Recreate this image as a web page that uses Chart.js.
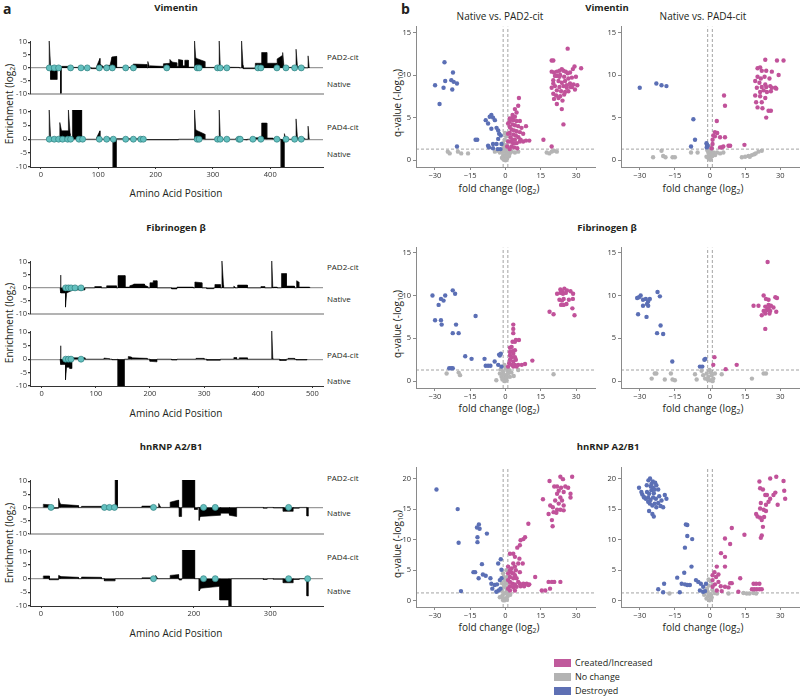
<!DOCTYPE html>
<html>
<head>
<meta charset="utf-8">
<script src="https://cdn.jsdelivr.net/npm/chart.js@4.4.1/dist/chart.umd.min.js"></script>
<style>
  body { margin: 0; background: #fff; }
  #fig { position: relative; width: 800px; height: 696px; overflow: hidden; font-family: 'Open Sans', 'Noto Sans', sans-serif; color: #231f20; }
  #fig canvas { position: absolute; }
  .t { position: absolute; white-space: nowrap; transform: translate(-50%, -50%); line-height: 1; }
  .l { position: absolute; white-space: nowrap; transform: translateY(-50%); line-height: 1; font-size: 8px; }
  .v { position: absolute; white-space: nowrap; transform: translate(-50%, -50%) rotate(-90deg); line-height: 1; font-size: 10px; }
  .letter { position: absolute; font-weight: bold; font-size: 14px; line-height: 1; }
  .title { font-weight: bold; font-size: 9.5px; }
  .sub { font-size: 10px; }
  .axis { font-size: 10px; }
  sub { font-size: 70%; vertical-align: -0.25em; line-height: 0; }
  .key { position: absolute; left: 554px; font-size: 9px; line-height: 8px; white-space: nowrap; }
  .key i { display: inline-block; width: 17px; height: 8px; margin-right: 4px; vertical-align: top; }
</style>
</head>
<body>
<div id="fig">
  <div class="letter" style="left:3px;top:2px">a</div>
  <div class="letter" style="left:401px;top:2px">b</div>

  <div class="t title" style="left:176px;top:8px">Vimentin</div>
  <div class="t title" style="left:607px;top:8px">Vimentin</div>
  <div class="t sub" style="left:500px;top:16px">Native vs. PAD2-cit</div>
  <div class="t sub" style="left:703px;top:16px">Native vs. PAD4-cit</div>
  <div class="t title" style="left:176px;top:228px">Fibrinogen β</div>
  <div class="t title" style="left:607px;top:228px">Fibrinogen β</div>
  <div class="t title" style="left:171px;top:447px">hnRNP A2/B1</div>
  <div class="t title" style="left:608px;top:447px">hnRNP A2/B1</div>

  <div class="l" style="left:327px;top:57px">PAD2-cit</div>
  <div class="l" style="left:327px;top:84px">Native</div>
  <div class="l" style="left:327px;top:127px">PAD4-cit</div>
  <div class="l" style="left:327px;top:154px">Native</div>
  <div class="l" style="left:327px;top:267px">PAD2-cit</div>
  <div class="l" style="left:327px;top:299px">Native</div>
  <div class="l" style="left:327px;top:355px">PAD4-cit</div>
  <div class="l" style="left:327px;top:381px">Native</div>
  <div class="l" style="left:327px;top:478px">PAD2-cit</div>
  <div class="l" style="left:327px;top:513px">Native</div>
  <div class="l" style="left:327px;top:557px">PAD4-cit</div>
  <div class="l" style="left:327px;top:591px">Native</div>

  <div class="t axis" style="left:176px;top:193px">Amino Acid Position</div>
  <div class="t axis" style="left:176px;top:413px">Amino Acid Position</div>
  <div class="t axis" style="left:176px;top:633px">Amino Acid Position</div>
  <div class="v" style="left:9px;top:104px">Enrichment (log<sub>2</sub>)</div>
  <div class="v" style="left:9px;top:323px">Enrichment (log<sub>2</sub>)</div>
  <div class="v" style="left:9px;top:543px">Enrichment (log<sub>2</sub>)</div>

  <div class="v" style="left:397px;top:103px">q-value (-log<sub>10</sub>)</div>
  <div class="v" style="left:397px;top:324px">q-value (-log<sub>10</sub>)</div>
  <div class="v" style="left:397px;top:544px">q-value (-log<sub>10</sub>)</div>
  <div class="t axis" style="left:499px;top:188px">fold change (log<sub>2</sub>)</div>
  <div class="t axis" style="left:703px;top:188px">fold change (log<sub>2</sub>)</div>
  <div class="t axis" style="left:499px;top:408px">fold change (log<sub>2</sub>)</div>
  <div class="t axis" style="left:703px;top:408px">fold change (log<sub>2</sub>)</div>
  <div class="t axis" style="left:499px;top:627px">fold change (log<sub>2</sub>)</div>
  <div class="t axis" style="left:703px;top:627px">fold change (log<sub>2</sub>)</div>

  <div class="key" style="top:659px"><i style="background:#c05a9c"></i>Created/Increased</div>
  <div class="key" style="top:673px"><i style="background:#b3b3b3"></i>No change</div>
  <div class="key" style="top:687px"><i style="background:#5e70b4"></i>Destroyed</div>
</div>

<script>
'use strict';

// --- Tick labels ---
const enrichTicks = [-10, -5, 0, 5, 10];
const vimPosTicks = [0, 100, 200, 300, 400];
const fibPosTicks = [0, 100, 200, 300, 400, 500];
const hnPosTicks = [0, 100, 200, 300];
const fcTicks = [-30, -15, 0, 15, 30];
const qTicks15 = [0, 5, 10, 15];
const qTicks20 = [0, 5, 10, 15, 20];
const qCutoff = 1.3;
const fcCutoff = 1;

// --- Enrichment profiles: [start, end, value at start, value at end] ---
const vimPad2Segments = [
  [14.5, 17, 10.5, 0.3], [17, 28.5, -4.5, -4.5], [34.3, 35.5, -10, -10], [36, 54, 0.6, 0.6], [54, 70, 0.2, 0.2],
  [88, 97, -0.3, -0.3], [97, 103, 0.5, 3.7], [103, 109, 1.5, 0.5], [112, 121, 1.0, 1.0], [121, 124, 1.5, 4.2],
  [124, 132, 4.3, 4.5], [132, 160, 0.2, 0.2], [161, 185, 1.5, 1.3], [186.5, 189, 2.5, 0.6], [190, 213, 0.8, 0.6],
  [214, 225, 1.6, 1.8], [225, 228, 3.3, 2.5], [228, 237, 2.3, 2.0], [237, 240, 0.5, 0.5], [240, 247, 3.3, 3.0],
  [247, 251, 0.8, 0.8], [251, 257, 3.0, 3.0], [257, 268, 0.3, 0.3], [268, 270, 10.5, 4.0], [270, 286, 3.8, 2.5],
  [286, 310, 0.2, 0.2], [311, 313, 10.5, 0.3], [313, 346, 0.3, 0.2], [350, 352.5, 10.5, 1.0], [353, 374, -0.3, -0.3],
  [374, 385, 1.8, 1.8], [385, 394, 6.0, 6.0], [394, 411, 1.8, 1.8], [412, 421, 3.5, 4.8], [422, 424, 6.0, 0.5],
  [424, 444, 0.2, 0.2], [445, 447.5, 7.3, 0.5], [447.5, 460, 0.5, 0.3], [466, 468, 4.7, 0.2]
];
const vimPad4Segments = [
  [14.5, 17, 10.5, 0.3], [33, 36, 6.0, 3.0], [36, 48, 3.0, 3.0], [48, 51, 10.5, 2.0], [51, 55, 0.4, 0.4],
  [55, 71, 10.5, 10.5], [71, 74, 0.3, 0.3], [97, 103, 0.5, 3.0], [103, 106, 1.0, 0.3], [112, 121, 0.4, 0.4],
  [126, 131.5, -10, -10], [132, 170, 0.2, 0.2], [175, 240, -0.2, -0.2], [268, 270, 10.5, 3.5], [270, 286, 3.3, 1.8],
  [311, 313, 10.5, 0.3], [340, 360, 0.3, -0.3], [372, 380, 0.5, 0.5], [385, 394, 5.8, 5.8], [394, 405, 0.4, 0.4],
  [419, 424, -10, -10], [425, 427, 2.0, 0.3], [445, 447.5, 7.3, 0.5], [447.5, 460, 0.4, 0.3], [466, 468, 4.7, 0.2]
];
const fibPad2Segments = [
  [34, 35.5, 5, 0.2], [35.5, 44, -2, -2], [44, 46, -7.5, -2.5], [46, 56, -2, -1], [56, 80, -0.8, -0.8],
  [98, 110, 0.5, 0.5], [120, 138, 0.8, 0.8], [141, 154, 4.8, 4.8], [154, 162, 0.3, 0.3], [163, 170, 0.8, 1.3],
  [170, 190, 1.5, 1.5], [190, 196, 1.0, 0.5], [200, 206, 2.0, 2.0], [206, 213, 2.8, 2.8], [240, 250, -0.4, -0.4],
  [250, 280, 0.3, 0.3], [283, 296, 2.3, 2.0], [305, 318, -0.3, -0.3], [320, 330, 1.3, 1.3], [333, 336, 10.5, 1.0],
  [355, 357, 0.7, 0.3], [362, 380, 1.1, 1.1], [405, 412, 0.5, 0.5], [425, 427, 10.5, 0.3], [428, 435, 0.3, 0.3],
  [443, 452, 5.6, 5.6], [452, 467, 0.7, 0.7], [471, 475, 2.8, 2.3], [475, 495, 0.3, 0.3]
];
const fibPad4Segments = [
  [34, 35.5, 5, 0.2], [35.5, 44, -2, -2], [44, 46, -7.7, -3], [46, 52, -3, -3], [52, 56, -3.5, -3.5],
  [56, 80, 0.5, 0.5], [115, 125, 0.4, 0.2], [130, 140, -0.2, -0.2], [141, 153, -10, -10], [160, 166, 1.0, 0.8],
  [166, 195, 0.5, 0.3], [200, 213, -0.8, -1.0], [240, 250, -0.3, -0.3], [285, 300, 0.3, 0.3], [305, 330, -0.4, -0.4],
  [355, 360, 0.6, 0.6], [365, 380, 0.5, 0.5], [425, 427, 10.5, 0.3], [440, 452, -0.5, -0.5], [455, 467, 0.3, 0.3],
  [470, 490, -0.3, -0.3]
];
const hnPad2Segments = [
  [3, 11, 1.2, 1.0], [11, 23, -0.4, -0.3], [23, 25, 3.5, 1.5], [25, 49, 1.2, 0.7], [53, 79, 0.4, 0.4],
  [79, 96, 0.3, 0.3], [97, 100, 10.5, 10.5], [132, 145, 0.5, 0.5], [154, 156, 1.5, 0.3], [169, 180, 2.0, 2.8],
  [181, 184, -3.5, -3.5], [185, 201, 10.5, 10.5], [201, 205, -0.8, -0.8], [207, 208.5, -5, -3], [208.5, 235, -3.5, -3.0],
  [235, 246, -2.2, -2.2], [247, 256, -3.0, -3.5], [291, 296, -0.3, -0.3], [304, 317, -0.2, -0.2], [317, 330, -1.5, -1.5],
  [330, 338, -0.3, -0.3], [348, 350, -3.3, -3.3]
];
const hnPad4Segments = [
  [3, 11, 1.0, 1.0], [11, 23, -0.4, -0.4], [23, 25, 1.2, 1.0], [25, 49, 0.8, 0.5], [53, 79, 0.6, 0.5],
  [83, 97, -0.8, -0.8], [132, 145, 0.3, 0.3], [150, 152, 1.2, 0.3], [169, 180, 1.2, 1.5], [181, 184, -0.5, -0.5],
  [185, 201, 10.5, 10.5], [207, 209, -4.5, -3.5], [209, 234, -3.5, -2.8], [234, 246, -7.8, -7.8], [246, 249, -10, -10],
  [291, 296, -0.3, -0.3], [304, 317, -0.2, -0.2], [317, 330, -1.5, -1.5], [330, 338, -0.3, -0.3], [348, 350, -6.3, -6.3]
];

// --- Citrullination sites (residue positions) ---
const vimPad2Sites = [14.6, 23.3, 30.9, 51.8, 69.9, 80.9, 101.9, 114.7, 124.6, 147.9, 161.3, 219.5, 272.5, 276, 308, 312.7, 324.3, 378.5, 383.7, 411.6, 427.4, 442.5, 454.1];
const vimPad4Sites = [14.6, 23.3, 30.9, 37.8, 46.6, 51.8, 66.4, 72.8, 101.9, 114.7, 126.3, 147.9, 161.3, 174.1, 178.7, 272.5, 276, 308, 312.7, 324.3, 345.3, 347.6, 369.7, 383.7, 411.6, 427.4, 442.5, 454.1];
const fibPad2Sites = [44.3, 49.3, 54.2, 61.6, 72.7];
const fibPad4Sites = [44.3, 49.3, 54.2, 72.7];
const hnPad2Sites = [13.1, 83, 89.5, 96.1, 147.2, 212.7, 228, 324];
const hnPad4Sites = [147.2, 212.7, 228, 324, 348.9];

// --- Volcano points: [fold change (log2), q-value (-log10)] ---
const vimPad2Created = [
  [19.6, 11.7], [20.3, 11.7], [26.4, 13.1], [29.3, 11.0], [32.1, 10.8], [19.6, 10.4], [20.6, 10.3], [21.8, 10.4], [22.9, 10.5],
  [23.9, 10.7], [24.6, 10.5], [25.6, 10.4], [26.4, 10.2], [27.4, 10.3], [28.6, 10.7], [21.8, 9.9], [23.2, 10.0], [24.9, 9.8],
  [26.7, 9.6], [28.2, 9.7], [29.9, 9.8], [20.3, 9.4], [22.5, 9.3], [23.9, 9.1], [25.3, 9.3], [27.4, 9.0], [28.9, 8.9],
  [21.0, 8.7], [22.9, 8.6], [24.6, 8.7], [26.0, 8.5], [27.7, 8.6], [19.6, 8.5], [21.8, 8.2], [23.6, 8.1], [25.3, 8.0],
  [26.7, 8.1], [28.2, 8.6], [20.3, 7.8], [21.5, 7.6], [23.2, 7.5], [24.9, 7.7], [20.6, 7.2], [22.5, 7.3], [24.2, 7.0],
  [21.8, 6.6], [23.9, 6.0], [24.6, 4.2], [26.0, 8.8], [20.3, 9.0], [22.9, 9.8], [21.0, 9.9], [30.5, 8.8], [29.5, 8.3],
  [5.7, 7.3], [5.4, 6.4], [4.0, 6.0], [4.7, 5.6], [3.0, 5.3], [4.0, 5.1], [2.6, 4.9], [3.3, 4.7], [4.7, 4.6], [6.1, 4.6],
  [1.8, 4.5], [3.0, 4.2], [4.0, 4.1], [5.4, 4.0], [6.8, 3.8], [8.7, 4.0], [1.8, 3.9], [2.6, 3.6], [3.6, 3.5], [4.7, 3.4],
  [6.1, 3.3], [1.8, 3.2], [3.3, 3.0], [4.4, 2.9], [5.5, 2.7], [2.1, 2.7], [3.0, 2.4], [4.0, 2.4], [6.4, 2.4], [2.1, 2.2],
  [3.3, 2.0], [4.7, 2.0], [6.1, 2.2], [7.5, 2.2], [8.7, 2.3], [10.1, 2.3], [2.6, 1.6], [3.7, 1.5], [1.8, 1.3], [5.0, 1.4],
  [1.8, 4.9], [1.1, 4.3], [1.1, 3.1], [1.1, 2.2], [0.7, 1.6], [16.1, 2.4], [19.6, 1.6], [7.5, 3.1]
];
const vimPad2Same = [
  [-1, 2.0], [-0.3, 2.4], [-0.7, 1.6], [0.1, 1.2], [-1.7, 1.0], [0.4, 0.8], [-1, 0.6], [-0.1, 0.4], [0.7, 0.2], [-0.7, 0.1],
  [0, 0], [1.1, 1.0], [1.8, 0.8], [-2.4, 0.9], [-3.1, 1.1], [-4.5, 1.0], [2.6, 1.0], [4, 0.9], [5.4, 1.0], [0.5, 1.8],
  [-0.5, 1.3], [1.5, 0.5], [-1.5, 0.3], [0.3, 2.8], [-0.2, 3.2], [1.2, 1.5], [-1.2, 0.2], [0.8, 0.6], [-0.8, 1.0], [0.2, 0.1],
  [-24.5, 1.0], [-23.7, 0.8], [-20.2, 1.0], [-18.8, 0.8], [-15.9, 0.8], [17.5, 0.9], [18.6, 0.8], [19.6, 1.0], [20.6, 1.1], [21.8, 1.0]
];
const vimPad2Destroyed = [
  [-29.9, 8.8], [-28, 6.6], [-26.3, 8.5], [-25.9, 11.5], [-25.6, 9.3], [-23, 9.4], [-22.6, 8.3], [-22.3, 10.3], [-22, 9.2],
  [-20.6, 9.0], [-20.6, 1.6], [-12.7, 2.4], [-12, 2.4], [-8.4, 4.7], [-7.4, 4.3], [-7.4, 1.7], [-7, 1.5], [-6.7, 5.1],
  [-6, 5.3], [-6, 3.7], [-5.3, 5.0], [-5.3, 1.9], [-5.3, 1.4], [-4.5, 4.7], [-3.8, 3.8], [-3.8, 1.9], [-3.1, 3.5],
  [-3.1, 2.5], [-2.7, 3.1], [-2, 2.9], [-1.7, 1.9], [-2.1, 1.3], [-3.3, 1.3]
];
const vimPad4Created = [
  [23.6, 11.8], [28.6, 11.7], [31.4, 11.7], [20.3, 10.8], [21.4, 10.9], [22.1, 10.5], [24, 10.5], [26.4, 10.4], [29.3, 10.0],
  [20.3, 9.8], [21.7, 9.6], [23.3, 9.8], [25.4, 9.6], [19.3, 9.3], [21.1, 9.1], [23.6, 8.9], [25.7, 8.7], [22.1, 8.6],
  [24, 8.6], [20, 8.5], [26.4, 8.5], [27.9, 8.5], [22.9, 8.2], [21.4, 8.0], [24.3, 8.0], [26, 8.1], [19.3, 7.6], [21.4, 7.5],
  [23.6, 7.3], [19.7, 6.8], [22.1, 6.8], [20.3, 6.2], [22.4, 6.1], [25, 5.8], [26, 5.8], [24, 5.0], [28.3, 8.4],
  [6, 7.6], [6.4, 6.4], [2.9, 4.6], [2.1, 3.3], [3.1, 3.2], [1.4, 2.9], [2.1, 2.8], [4.3, 2.7], [6.4, 2.7], [1.1, 2.4],
  [0.7, 1.4], [4.3, 1.5], [5, 1.5], [5.7, 1.6], [7.9, 1.7], [8.6, 1.7], [14.7, 1.8], [1.1, 1.9]
];
const vimPad4Same = [
  [-24.3, 0.35], [-20.7, 1.1], [-20, 0.5], [-19, 0.35], [-16, 0.35], [-15, 0.35], [-8.1, 0.9], [-5.3, 0.9], [-1.2, 1.2],
  [-0.8, 1.0], [-0.5, 0.8], [0.2, 1.1], [0.6, 0.7], [-0.3, 0.5], [0.3, 0.3], [-0.6, 0.2], [0.1, 0.05], [1.0, 0.5], [1.5, 0.9],
  [-1.5, 0.4], [0.8, 1.4], [-0.2, 1.6], [2.2, 0.6], [3, 0.9], [4.3, 0.8], [5.7, 0.9], [13.6, 0.35], [15, 0.4], [16.4, 0.5],
  [17.9, 0.6], [18.9, 0.7], [20.7, 1.0], [22.1, 1.1], [17, 0.4], [19.5, 0.8]
];
const vimPad4Destroyed = [
  [-30, 8.5], [-22.9, 9.0], [-20.7, 8.8], [-18.6, 8.7], [-7.1, 4.8], [-6.4, 2.4], [-8.1, 1.6], [-1.5, 2.0], [-1.3, 1.8],
  [-1.2, 1.6], [-1.4, 1.5], [-1.0, 1.7]
];
const fibPad2Created = [
  [18.7, 8.1], [20.4, 7.8], [21.9, 10.2], [23.3, 10.7], [24, 10.5], [25, 10.8], [26.1, 10.6], [27.6, 10.5], [28.7, 10.2],
  [24.4, 10.2], [22.9, 9.5], [24.7, 9.6], [26.9, 9.5], [28.6, 9.6], [23.6, 8.9], [24.7, 8.9], [25.9, 9.0], [24, 9.4],
  [28.4, 8.5], [29.3, 7.7], [23.3, 10.3], [25.6, 10.3],
  [3.3, 6.6], [3.3, 6.1], [3.3, 5.6], [3, 4.6], [4, 4.6], [4.4, 4.8], [5.7, 4.8], [1.9, 3.9], [2.6, 4.0], [1.9, 3.4],
  [3, 3.5], [4, 3.6], [1.9, 3.0], [3.3, 3.2], [2.6, 2.8], [4, 2.8], [1.9, 2.5], [3.3, 2.3], [4.4, 2.5], [1.6, 2.1],
  [2.7, 1.9], [4, 1.9], [5.4, 1.9], [6.9, 1.9], [8.3, 2.0], [3.3, 1.7], [4.7, 1.7], [11.4, 2.4], [1.1, 1.7]
];
const fibPad2Same = [
  [-3.9, 0.1], [-2.4, 0.9], [-1.7, 0.5], [-1, 1.1], [0.1, 1.5], [0.1, 0.7], [0.4, 0.1], [-0.7, 0.3], [1.1, 0.9], [1.9, 0.5],
  [-0.3, 0], [5.4, 1.3], [-25, 0.9], [-19.9, 1.0], [-19.3, 0.7], [20.4, 0.8], [-1.3, 0.2], [0.8, 1.2], [-0.5, 1.9],
  [1.5, 1.3], [2.5, 1.0], [-2, 1.4], [0.5, 0.4], [3.5, 0.6], [-1, 0.8]
];
const fibPad2Destroyed = [
  [-31, 10.0], [-29.9, 7.1], [-28.4, 8.9], [-27.4, 9.6], [-26.3, 9.4], [-25.6, 10.0], [-27.4, 7.1], [-27.1, 6.6],
  [-22.4, 10.6], [-21.4, 10.2], [-22.4, 5.6], [-21, 6.6], [-19.9, 5.6], [-12.7, 7.6], [-17.1, 2.9], [-14.4, 2.6],
  [-23.9, 1.5], [-23.1, 1.5], [-22.4, 1.5], [-8.9, 2.6], [-8.4, 1.8], [-7.4, 1.8], [-6.4, 1.8], [-4.6, 2.3], [-3.1, 1.9],
  [-2.7, 3.1], [-2, 3.2], [-1.7, 1.7], [-2.4, 3.0]
];
const fibPad4Created = [
  [18.6, 8.8], [20.7, 8.8], [22.1, 7.7], [22.9, 10.0], [23.9, 9.6], [25, 9.5], [23.6, 8.7], [25, 8.9], [26, 8.8], [24.3, 8.3],
  [25, 8.5], [25.7, 8.2], [27.1, 8.6], [27.9, 9.8], [28.6, 9.7], [22.9, 8.2], [23.6, 7.9], [25.4, 7.9], [28.3, 8.1],
  [23.6, 6.1], [24.6, 13.9], [1.9, 2.8], [1.4, 1.9], [6.7, 1.4], [11.4, 1.9]
];
const fibPad4Same = [
  [-23.6, 0.9], [-22.9, 0.9], [-24.9, 0.3], [-19.3, 0.2], [-16.7, 0.9], [-16, 0.2], [-15, 0.1], [-6.4, 0.8], [-5.7, 0.2],
  [-3.6, 1.2], [-2.9, 0.7], [-2.1, 0.3], [-1.4, 0.9], [-0.7, 0.5], [0, 0.1], [0.7, 0.7], [1.4, 0.3], [2.1, 0.9], [5, 0.8],
  [17.9, 0.3], [22.9, 0.9], [23.9, 0.9], [-0.3, 1.3], [1.1, 0], [-1.0, 0.2], [0.4, 1.0]
];
const fibPad4Destroyed = [
  [-31.1, 9.7], [-30.3, 9.8], [-29.6, 10.0], [-28.6, 9.5], [-27.4, 9.6], [-26.4, 9.3], [-25.7, 9.6], [-26.9, 9.0],
  [-26.4, 8.8], [-28.6, 8.8], [-30.7, 7.8], [-27.1, 7.5], [-22.4, 10.4], [-21.4, 9.9], [-21.1, 6.5], [-22.6, 5.6],
  [-20, 5.5], [-16.1, 2.3], [-4.3, 1.7], [-3.3, 1.7], [-2.4, 2.5], [-2, 2.6]
];
const hnPad2Created = [
  [18.7, 19.6], [23.3, 20.3], [24.4, 19.9], [28.3, 20.3], [21.9, 18.7], [20.7, 18.7], [23.6, 18.5], [25.4, 18.7], [26.6, 18.5],
  [22.6, 18.0], [24.7, 17.8], [27.6, 17.5], [27.6, 16.9], [21.9, 17.5], [23.3, 16.9], [21.1, 16.4], [24, 16.4], [15.9, 16.6],
  [22.6, 15.9], [24.7, 15.6], [19, 15.6], [20.1, 15.3], [21.9, 14.9], [23.3, 14.9], [24.7, 14.8], [18.3, 14.2], [20.4, 14.5],
  [19.7, 13.2], [20, 12.2], [21.6, 14.4],
  [9.7, 12.6], [8.3, 10.4], [7.6, 10.1], [6.4, 9.9], [6.1, 9.1], [5, 8.7], [1.9, 7.7], [3.3, 7.7], [4, 7.2], [5.9, 6.9],
  [3.3, 6.1], [5.4, 6.1], [7.3, 6.1], [4, 5.6], [2.6, 5.3], [1.9, 5.0], [2.6, 4.6], [3.3, 4.5], [4, 4.2], [1.9, 3.9],
  [3.3, 3.7], [4.7, 3.7], [5.4, 3.1], [1.9, 3.1], [3, 2.8], [4, 2.7], [6.1, 2.8], [7.6, 2.8], [9, 2.8], [10.1, 2.7],
  [12.6, 3.9], [1.9, 2.4], [3.3, 2.2], [4.7, 2.3], [6.4, 2.4], [7.9, 2.4], [9.7, 2.6], [1.9, 1.7], [4, 1.7], [1.1, 5.6],
  [1.1, 4.5], [1.1, 3.4], [1.1, 2.0], [4.4, 5.0], [6.1, 4.7], [15.4, 1.7], [16.9, 1.7], [18.9, 2.0], [18.3, 3.1],
  [19.7, 3.1], [20.7, 3.1], [23.3, 3.1]
];
const hnPad2Same = [
  [-1, 4.5], [-0.3, 3.4], [-0.7, 2.3], [0.4, 1.5], [-1.3, 0.9], [0.1, 0.4], [-1, 0.1], [-0.3, 0.1], [-1.7, 1.7], [0.7, 3.9],
  [0.1, 2.8], [0.4, 5.0], [-0.5, 1.2], [0.9, 0.7], [-1.5, 2.9], [0.3, 2.1], [-0.8, 3.9], [1.2, 1.1], [-1.2, 0.5], [0.6, 0.2],
  [2, 1.0], [-2.4, 0.6], [0.8, 3.0]
];
const hnPad2Destroyed = [
  [-29.3, 18.2], [-20.3, 15.0], [-19.9, 9.5], [-18.9, 1.6], [-11.3, 12.5], [-12.1, 12.0], [-11, 11.8], [-11.9, 10.4],
  [-11.9, 9.6], [-7.9, 11.0], [-13.6, 4.7], [-12.9, 4.7], [-10, 6.0], [-9.6, 4.3], [-8.4, 4.1], [-11.4, 3.7], [-6.4, 3.7],
  [-6, 2.8], [-4.6, 2.6], [-3.6, 2.7], [-2.4, 3.4], [-1.7, 3.7], [-3.1, 6.1], [-2, 6.8], [-1.7, 5.1], [-5.6, 2.0],
  [-2.9, 1.7], [-2.1, 2.0], [-3.9, 1.5]
];
const hnPad4Created = [
  [21.1, 19.5], [21.4, 18.4], [22.6, 18.2], [24.3, 17.3], [25.7, 20.0], [28.3, 20.3], [31.4, 19.6], [23.6, 17.3], [25.7, 16.7],
  [27.1, 17.3], [27.9, 17.7], [31.7, 18.0], [32.1, 16.7], [21.7, 16.0], [23.9, 15.7], [25, 16.2], [28.9, 15.7], [21.4, 15.1],
  [22.9, 14.9], [23.9, 14.7], [19.7, 14.2], [20.3, 13.8], [21.4, 13.6], [22.1, 13.2], [23.1, 13.7], [22.6, 12.1], [22.1, 10.7],
  [21.7, 10.3],
  [9.3, 11.9], [14.7, 10.8], [6.4, 10.2], [8.6, 9.3], [4.7, 7.8], [6.4, 7.2], [2.9, 5.6], [6.4, 5.6], [1.9, 4.7], [3.6, 4.3],
  [2.6, 3.9], [12.9, 3.7], [3.6, 3.1], [8.6, 2.9], [9.3, 2.9], [2.1, 2.7], [4.6, 2.4], [6.4, 2.3], [7.9, 2.2], [18.6, 2.8],
  [19.7, 2.8], [21.1, 2.8], [17.9, 1.9], [18.9, 1.9], [20, 1.9], [21.1, 1.9], [22.1, 1.9], [2.9, 1.7], [5, 1.6], [12.1, 1.5],
  [1.1, 3.4], [1.1, 4.2], [1.1, 2.3]
];
const hnPad4Same = [
  [-17.3, 1.2], [14.3, 1.3], [15.7, 1.2], [16.9, 1.2], [18.6, 1.3], [19.7, 1.2], [7.9, 1.2], [-1, 1.5], [-0.5, 2.5], [0.3, 3.2],
  [-0.8, 0.8], [0.5, 0.3], [-0.2, 0.1], [1.0, 1.8], [-1.3, 2.0], [0.2, 1.1], [-0.6, 3.5], [1.2, 2.6], [0.7, 0.6], [-1.5, 0.4],
  [2, 1.3], [3, 1.2], [-2.5, 1.0]
];
const hnPad4Destroyed = [
  [-30.3, 18.5], [-26.3, 19.7], [-25.6, 20.0], [-24.4, 19.5], [-23.4, 19.3], [-27, 18.9], [-25.3, 18.7], [-24.3, 18.5],
  [-22.9, 18.9], [-28.9, 17.4], [-28.3, 17.0], [-26.9, 17.8], [-26, 17.5], [-25, 18.1], [-24, 17.6], [-22.1, 18.2],
  [-27.4, 16.7], [-26.4, 16.9], [-25.4, 16.5], [-24.3, 16.9], [-23.1, 16.7], [-21.7, 17.1], [-19.3, 17.3], [-18.6, 16.7],
  [-20.7, 16.4], [-25.7, 15.9], [-24.6, 15.6], [-23.6, 15.9], [-22.1, 16.0], [-21.1, 15.5], [-20, 15.3], [-22.9, 15.3],
  [-26, 14.7], [-24.6, 14.2], [-24, 13.8], [-28.1, 16.9], [-29.3, 17.8], [-25, 19.1], [-23.6, 18.2], [-26.4, 16.2],
  [-10.3, 12.5], [-9.7, 12.4], [-9.7, 10.6], [-10.7, 8.7], [-7.6, 10.1], [-7.9, 5.6], [-11, 4.6], [-14, 3.8], [-12.1, 2.8],
  [-10.7, 2.7], [-9.7, 2.6], [-8.6, 2.6], [-6, 3.4], [-5, 3.1], [-3.9, 2.8], [-2.9, 2.3], [-1.7, 2.8], [-2.1, 1.6],
  [-4.3, 1.7], [-19.6, 2.8], [-22.1, 1.9], [-20, 1.4], [-12.9, 1.4], [-2.9, 1.5]
];

// --- Colours ---
const COLOR_CREATED = '#c1529a';
const COLOR_SAME = '#b5b5b5';
const COLOR_DESTROYED = '#5b6fb5';

Chart.defaults.font.family = "'Open Sans', 'Noto Sans', sans-serif";
const fig = document.getElementById('fig');
const PAD = 6;

// canvas placed so its chart area lands on the given box
function addCanvas(area, yW, xH) {
  const c = document.createElement('canvas');
  c.width = area.r - area.l + yW + PAD;
  c.height = area.b - area.t + PAD + xH;
  c.style.left = (area.l - yW) + 'px';
  c.style.top = (area.t - PAD) + 'px';
  fig.appendChild(c);
  return c;
}

const fixTicks = values => scale => { scale.ticks = values.map(v => ({ value: v })); };

function toArea(segments) {
  const pts = [];
  segments.forEach(([a, b, v1, v2]) => {
    pts.push({ x: a, y: 0 }, { x: a, y: v1 }, { x: b, y: v2 }, { x: b, y: 0 });
  });
  return pts;
}

const baseOptions = {
  responsive: false, animation: false, events: [],
  layout: { padding: { top: PAD, right: PAD } },
  plugins: { legend: { display: false }, tooltip: { enabled: false } }
};

function drawProfile(area, xRange, xTicks, segments, sites, isLower) {
  const yW = 22, xH = isLower ? 14 : 2;
  new Chart(addCanvas(area, yW, xH), {
    type: 'scatter',
    data: {
      datasets: [
        { data: sites.map(p => ({ x: p, y: 0 })), pointRadius: 3, pointBackgroundColor: '#63c0bf', pointBorderColor: '#2e7f80', pointBorderWidth: 0.7 },
        { type: 'line', data: toArea(segments), fill: 'origin', backgroundColor: '#000', borderColor: '#000', borderWidth: 0.6, pointRadius: 0, tension: 0 }
      ]
    },
    options: {
      ...baseOptions,
      scales: {
        x: {
          type: 'linear', min: xRange[0], max: xRange[1],
          afterBuildTicks: fixTicks(xTicks), afterFit: s => { s.height = xH; },
          border: isLower ? { color: '#333', width: 1 } : { color: '#b3b3b3', width: 2 },
          grid: { display: isLower, drawOnChartArea: false, tickLength: 2, tickColor: '#333' },
          ticks: { display: isLower, color: '#333', font: { size: 7.5 }, padding: 1, maxRotation: 0 }
        },
        y: {
          min: -10, max: 10.5,
          afterBuildTicks: fixTicks(enrichTicks), afterFit: s => { s.width = yW; },
          border: { color: '#333', width: 1 },
          grid: { color: c => (c.tick && c.tick.value === 0 ? '#9a9a9a' : 'rgba(0,0,0,0)'), lineWidth: 1.2, tickColor: '#333', tickLength: 2 },
          ticks: { color: '#333', font: { size: 7.5 }, padding: 1 }
        }
      }
    }
  });
}

const dots = (pts, color) => ({ data: pts.map(([x, y]) => ({ x, y })), pointRadius: 2.2, pointBorderWidth: 0, pointBackgroundColor: color });
const guide = pts => ({ data: pts, showLine: true, borderColor: '#8c8c8c', borderWidth: 0.8, borderDash: [3, 2], pointRadius: 0 });
const fcRange = [-38, 38];

function drawVolcano(area, yRange, yTicks, created, same, destroyed) {
  const yW = 20, xH = 14;
  new Chart(addCanvas(area, yW, xH), {
    type: 'scatter',
    data: {
      datasets: [
        dots(created, COLOR_CREATED), dots(destroyed, COLOR_DESTROYED), dots(same, COLOR_SAME),
        guide([{ x: fcRange[0], y: qCutoff }, { x: fcRange[1], y: qCutoff }]),
        guide([{ x: -fcCutoff, y: yRange[0] }, { x: -fcCutoff, y: yRange[1] }]),
        guide([{ x: fcCutoff, y: yRange[0] }, { x: fcCutoff, y: yRange[1] }])
      ]
    },
    options: {
      ...baseOptions,
      scales: {
        x: {
          min: fcRange[0], max: fcRange[1],
          afterBuildTicks: fixTicks(fcTicks), afterFit: s => { s.height = xH; },
          border: { color: '#8a8a8a', width: 1 },
          grid: { drawOnChartArea: false, tickLength: 3, tickColor: '#8a8a8a' },
          ticks: { color: '#333', font: { size: 7.5 }, padding: 1, maxRotation: 0, callback: v => (v < 0 ? '\u2212' + Math.abs(v) : String(v)) }
        },
        y: {
          min: yRange[0], max: yRange[1],
          afterBuildTicks: fixTicks(yTicks), afterFit: s => { s.width = yW; },
          border: { color: '#8a8a8a', width: 1 },
          grid: { drawOnChartArea: false, tickLength: 3, tickColor: '#8a8a8a' },
          ticks: { color: '#333', font: { size: 7.5 }, padding: 2 }
        }
      }
    }
  });
}

// --- Panel a: enrichment profiles ---
drawProfile({ l: 30, r: 323, t: 41, b: 97 }, [-19, 492], vimPosTicks, vimPad2Segments, vimPad2Sites, false);
drawProfile({ l: 30, r: 323, t: 110, b: 167 }, [-19, 492], vimPosTicks, vimPad4Segments, vimPad4Sites, true);
drawProfile({ l: 30, r: 323, t: 261, b: 317 }, [-21.6, 519.7], fibPosTicks, fibPad2Segments, fibPad2Sites, false);
drawProfile({ l: 30, r: 323, t: 331, b: 386 }, [-21.6, 519.7], fibPosTicks, fibPad4Segments, fibPad4Sites, true);
drawProfile({ l: 30, r: 323, t: 480, b: 537 }, [-14.4, 369], hnPosTicks, hnPad2Segments, hnPad2Sites, false);
drawProfile({ l: 30, r: 323, t: 550, b: 606 }, [-14.4, 369], hnPosTicks, hnPad4Segments, hnPad4Sites, true);

// --- Panel b: volcano plots ---
drawVolcano({ l: 416, r: 595, t: 26, b: 167 }, [-0.8, 15.7], qTicks15, vimPad2Created, vimPad2Same, vimPad2Destroyed);
drawVolcano({ l: 621, r: 799, t: 26, b: 167 }, [-0.8, 15.7], qTicks15, vimPad4Created, vimPad4Same, vimPad4Destroyed);
drawVolcano({ l: 416, r: 595, t: 247, b: 388 }, [-0.8, 15.6], qTicks15, fibPad2Created, fibPad2Same, fibPad2Destroyed);
drawVolcano({ l: 621, r: 799, t: 247, b: 388 }, [-0.8, 15.6], qTicks15, fibPad4Created, fibPad4Same, fibPad4Destroyed);
drawVolcano({ l: 416, r: 595, t: 467, b: 607 }, [-1, 21.8], qTicks20, hnPad2Created, hnPad2Same, hnPad2Destroyed);
drawVolcano({ l: 621, r: 799, t: 467, b: 607 }, [-1, 21.8], qTicks20, hnPad4Created, hnPad4Same, hnPad4Destroyed);
</script>
</body>
</html>
